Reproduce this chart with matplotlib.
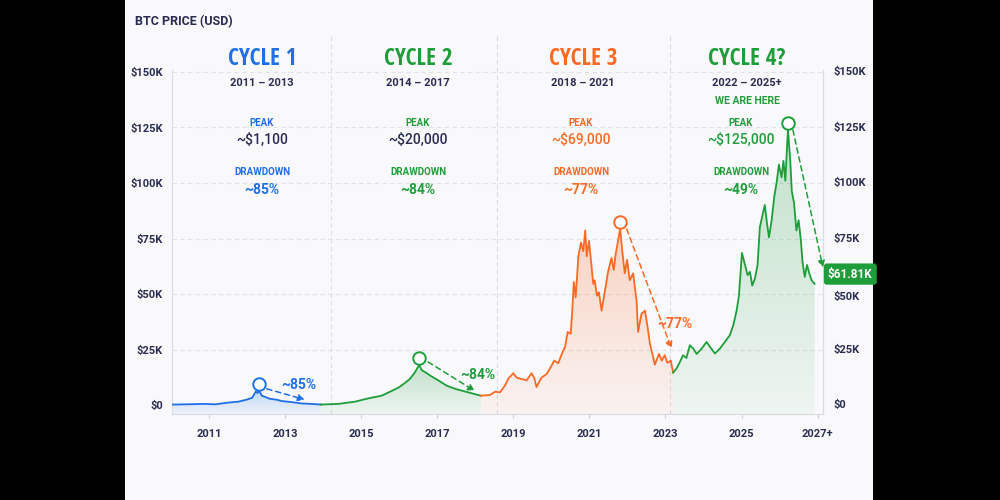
import numpy as np
import matplotlib
matplotlib.use("Agg")
import matplotlib.pyplot as plt
import matplotlib.transforms as mtransforms
from matplotlib.patches import Rectangle, Polygon
from matplotlib.colors import to_rgb
from matplotlib import font_manager
from matplotlib.font_manager import FontProperties
from matplotlib.textpath import TextPath

# ---------------- data (prices in $K) ----------------
c1_years = [2010.04, 2010.37, 2010.90, 2011.16, 2011.51, 2011.77, 2011.99, 2012.14, 2012.23, 2012.28,
            2012.32, 2012.39, 2012.47, 2012.60, 2012.78, 2012.91, 2013.18, 2013.44, 2013.70, 2013.94]
c1_prices = [0.2, 0.3, 0.5, 0.3, 1.1, 1.5, 2.4, 3.3, 6.1, 5.4,
             6.5, 4.2, 3.7, 2.8, 2.4, 1.8, 1.3, 0.7, 0.5, 0.2]

c2_years = [2013.94, 2014.40, 2014.84, 2015.19, 2015.54, 2015.80, 2015.98, 2016.15, 2016.28, 2016.41,
            2016.49, 2016.53, 2016.59, 2016.72, 2016.85, 2017.03, 2017.25, 2017.47, 2017.73, 2017.99, 2018.15]
c2_prices = [0.2, 0.5, 1.5, 3.0, 4.2, 6.3, 7.8, 9.9, 11.7, 14.6,
             17.0, 18.0, 15.8, 14.4, 12.9, 11.1, 8.7, 7.3, 6.1, 4.9, 4.2]

c3_years = [2018.15, 2018.39, 2018.52, 2018.65, 2018.78, 2018.87, 2019.00, 2019.09, 2019.22, 2019.35,
            2019.48, 2019.55, 2019.61, 2019.74, 2019.88, 2019.96, 2020.08, 2020.18, 2020.29, 2020.36,
            2020.43, 2020.51, 2020.56, 2020.59, 2020.64, 2020.71, 2020.78, 2020.84, 2020.89, 2020.93,
            2020.99, 2021.04, 2021.10, 2021.14, 2021.20, 2021.25, 2021.32, 2021.41, 2021.49, 2021.58,
            2021.64, 2021.69, 2021.76, 2021.81, 2021.86, 2021.93, 2021.99, 2022.06, 2022.15, 2022.24,
            2022.28, 2022.37, 2022.46, 2022.53, 2022.59, 2022.68, 2022.72, 2022.83, 2022.90, 2022.98,
            2023.05, 2023.14, 2023.20]
c3_prices = [4.2, 4.5, 6.0, 5.7, 8.7, 11.9, 14.3, 12.3, 11.7, 11.1,
             14.3, 12.3, 8.1, 12.3, 14.0, 16.4, 20.0, 18.8, 23.6, 26.2,
             32.9, 32.1, 45.5, 55.4, 48.5, 67.0, 73.2, 69.3, 78.6, 67.0,
             73.9, 65.4, 54.6, 56.2, 49.2, 50.8, 42.5, 51.5, 60.0, 66.2,
             60.8, 67.9, 74.7, 79.3, 70.0, 59.3, 65.4, 56.2, 59.3, 47.0,
             32.9, 41.1, 42.5, 35.1, 27.7, 21.2, 18.2, 23.0, 20.0, 22.4,
             19.0, 20.0, 14.6]

c4_years = [2023.20, 2023.29, 2023.38, 2023.46, 2023.55, 2023.64, 2023.73, 2023.82, 2023.95, 2024.08,
            2024.17, 2024.30, 2024.43, 2024.56, 2024.69, 2024.78, 2024.87, 2024.93, 2025.01, 2025.09,
            2025.16, 2025.22, 2025.28, 2025.35, 2025.42, 2025.48, 2025.55, 2025.61, 2025.67, 2025.72,
            2025.79, 2025.86, 2025.92, 2025.98, 2026.05, 2026.10, 2026.15, 2026.20, 2026.22, 2026.28,
            2026.32, 2026.38, 2026.44, 2026.50, 2026.56, 2026.60, 2026.66, 2026.72, 2026.78, 2026.84,
            2026.92]
c4_prices = [14.6, 16.4, 19.4, 22.4, 21.2, 26.9, 25.4, 23.0, 25.4, 28.4,
             26.2, 23.2, 25.4, 28.4, 31.4, 35.8, 42.5, 49.2, 68.5, 63.1,
             58.5, 60.0, 53.8, 56.9, 63.1, 80.1, 85.5, 90.1, 81.6, 75.5,
             83.2, 94.0, 100.1, 108.3, 102.6, 110.0, 101.0, 118.3, 123.9, 110.0,
             96.3, 90.9, 78.6, 83.2, 73.9, 64.7, 57.7, 63.1, 59.3, 56.2,
             54.6]

cycle_names = ["CYCLE 1", "CYCLE 2", "CYCLE 3", "CYCLE 4?"]
cycle_ranges = ["2011 – 2013", "2014 – 2017", "2018 – 2021", "2022 – 2025+"]
peak_labels = ["~$1,100", "~$20,000", "~$69,000", "~$125,000"]
drawdown_labels = ["~85%", "~84%", "~77%", "~49%"]

arrow_start_years = [2012.52, 2016.76, 2021.98, 2026.35]
arrow_start_vals = [7.3, 19.4, 79.3, 123.9]
arrow_end_years = [2013.52, 2017.99, 2023.16, 2027.14]
arrow_end_vals = [2.4, 6.3, 25.4, 61.9]

pct_years = [2013.35, 2018.08, 2023.25]
pct_vals = [8.9, 13.5, 36.6]
pct_labels = ["~85%", "~84%", "~77%"]

divider_years = [2014.21, 2018.57, 2023.11]

y_ticks = [0, 25, 50, 75, 100, 125, 150]
y_tick_labels = ["$0", "$25K", "$50K", "$75K", "$100K", "$125K", "$150K"]
x_ticks = [2011, 2013, 2015, 2017, 2019, 2021, 2023, 2025, 2027]
x_tick_labels = ["2011", "2013", "2015", "2017", "2019", "2021", "2023", "2025", "2027+"]

current_label = "$61.81K"

# ---------------- style ----------------
BLUE = "#1f6fe9"
GREEN = "#1f9d3a"
ORANGE = "#fa6a25"
NAVY = "#2a2c52"
GRID = "#e2e2ea"
PANEL = "#f9f9fb"
seg_colors = [BLUE, GREEN, ORANGE, GREEN]
value_colors = [NAVY, NAVY, ORANGE, GREEN]

avail = {f.name for f in font_manager.fontManager.ttflist}
BASE = "Roboto" if "Roboto" in avail else "DejaVu Sans"
plt.rcParams["font.family"] = [BASE, "DejaVu Sans"]

SANS_PREFIXES = ("DejaVu Sans", "Liberation Sans", "Noto Sans", "Roboto", "Open Sans", "Lato", "Inter")


def _is_bold(f):
    w = f.weight
    if isinstance(w, str):
        return w in ("bold", "semibold", "demibold", "heavy", "extra bold")
    return 600 <= w <= 800


# pick the narrowest bold upright plain-sans face for the big cycle headings
best = None
for f in font_manager.fontManager.ttflist:
    if not f.name.startswith(SANS_PREFIXES):
        continue
    if any(b in f.name for b in ("Mono", "CJK", "Serif", "Display", "Symbols", "Math")):
        continue
    if not _is_bold(f) or "oblique" in f.style or "italic" in f.style:
        continue
    if not f.fname.lower().endswith((".ttf", ".otf")):
        continue
    try:
        fp = FontProperties(fname=f.fname, size=10)
        ext = TextPath((0, 0), "CYCLE 1", prop=fp).get_extents()
        capx = TextPath((0, 0), "E", prop=fp).get_extents()
        ratio = ext.width / max(capx.height, 1e-6)
    except Exception:
        continue
    if best is None or ratio < best[0]:
        best = (ratio, f.fname, capx.height / 10.0)

if best is not None:
    cap_ratio = best[2]
    size = 12.0 / cap_ratio          # cap height ~ 16.7 px
    width_px = best[0] * 16.7
    if width_px > 74:
        size *= 74 / width_px
    HEAD_FP = FontProperties(fname=best[1], size=size)
else:
    HEAD_FP = FontProperties(family=[BASE, "DejaVu Sans"], weight="bold", size=14)

fig = plt.figure(figsize=(10, 5), dpi=100)
fig.patch.set_facecolor("black")
fig.add_artist(Rectangle((0.125, 0), 0.748, 1, transform=fig.transFigure,
                         facecolor=PANEL, edgecolor="none", zorder=-10))

ax = fig.add_axes([0.172, 0.172, 0.651, 0.688])
ax.set_facecolor("none")
YMIN, YMAX = -4.05, 150.9
ax.set_xlim(2010.03, 2027.14)
ax.set_ylim(YMIN, YMAX)

# grid
for v in y_ticks[1:]:
    ax.axhline(v, color=GRID, lw=0.8, ls=(0, (4, 3)), zorder=0)
for d in divider_years:
    ax.axvline(d, ymin=0, ymax=1.10, color="#dcdce4", lw=0.8, ls=(0, (4, 3)),
               clip_on=False, zorder=0)

for s in ["left", "bottom", "right"]:
    ax.spines[s].set_color("#dcdce4")
    ax.spines[s].set_linewidth(0.9)
ax.spines["top"].set_visible(False)


def gradient_fill(xs, ys, color, a_top=0.26, a_bot=0.05):
    xs = np.asarray(xs, float)
    ys = np.asarray(ys, float)
    rgb = to_rgb(color)
    n = 256
    img = np.zeros((n, 1, 4))
    img[:, 0, 0], img[:, 0, 1], img[:, 0, 2] = rgb
    img[:, 0, 3] = np.linspace(a_bot, a_top, n)
    im = ax.imshow(img, aspect="auto", origin="lower",
                   extent=[xs.min(), xs.max(), YMIN, ys.max()], zorder=1,
                   interpolation="bilinear")
    verts = [(xs[0], YMIN)] + list(zip(xs, ys)) + [(xs[-1], YMIN)]
    poly = Polygon(verts, closed=True, facecolor="none", edgecolor="none")
    ax.add_patch(poly)
    im.set_clip_path(poly)


segments = [(c1_years, c1_prices), (c2_years, c2_prices), (c3_years, c3_prices), (c4_years, c4_prices)]
peak_off = mtransforms.ScaledTranslation(0, 5 / 72, fig.dpi_scale_trans)
for (xs, ys), col in zip(segments, seg_colors):
    gradient_fill(xs, ys, col)
    ax.plot(xs, ys, color=col, lw=1.3, zorder=3, solid_joinstyle="round")
    i = int(np.argmax(ys))
    ax.plot(xs[i], ys[i], "o", ms=9, mfc="white", mec=col, mew=1.4, zorder=5,
            transform=ax.transData + peak_off)

# drawdown arrows
for xs0, ys0, xs1, ys1, col in zip(arrow_start_years, arrow_start_vals,
                                   arrow_end_years, arrow_end_vals, seg_colors):
    ax.annotate("", xy=(xs1, ys1), xytext=(xs0, ys0), annotation_clip=False,
                arrowprops=dict(arrowstyle="-|>", color=col, lw=1.1, ls=(0, (3.5, 2.5)),
                                shrinkA=0, shrinkB=0, mutation_scale=10), zorder=4)

for px, pv, pl, col in zip(pct_years, pct_vals, pct_labels, seg_colors):
    ax.text(px, pv, pl, color=col, fontsize=10, fontweight="bold", ha="center", va="center", zorder=6)

# ticks
ax.set_yticks(y_ticks)
ax.set_yticklabels(y_tick_labels)
ax.tick_params(axis="y", length=0, pad=6.5, labelsize=8, labelcolor=NAVY)
for t in ax.get_yticklabels():
    t.set_fontweight("bold")
ax.set_xticks(x_ticks)
ax.set_xticklabels(x_tick_labels)
ax.tick_params(axis="x", length=3, width=0.8, color="#cfcfd8", pad=8, labelsize=8, labelcolor=NAVY)
for t in ax.get_xticklabels():
    t.set_fontweight("bold")

# right-side labels
rt = mtransforms.blended_transform_factory(ax.transAxes, ax.transData)
for v, lab in zip(y_ticks, y_tick_labels):
    off = -1.5 if v == 50 else 0
    ax.text(1.0 + 10 / 651, v + off, lab, transform=rt, ha="left", va="center",
            fontsize=8, fontweight="bold", color=NAVY, clip_on=False)

# current price badge
badge_t = rt + mtransforms.ScaledTranslation(0, 7 / 72, fig.dpi_scale_trans)
ax.text(1.0 + 5 / 651, c4_prices[-1], current_label, transform=badge_t, ha="left", va="center",
        fontsize=8.5, fontweight="bold", color="white", clip_on=False, zorder=7,
        bbox=dict(boxstyle="round,pad=0.35,rounding_size=0.25", fc=GREEN, ec="none"))

# headers (figure pixel positions)
def ft(x, y, s, **kw):
    fig.text(x / 1000, 1 - y / 500, s, ha="center", va="center", **kw)

fig.text(0.135, 1 - 22 / 500, "BTC PRICE (USD)", ha="left", va="center",
         fontsize=9, fontweight="bold", color=NAVY)

head_x = [262, 418, 583, 747]
sub_x = [262, 418, 581, 741]
for k in range(4):
    ft(head_x[k], 59, cycle_names[k], fontproperties=HEAD_FP, color=seg_colors[k])
    ft(head_x[k], 83, cycle_ranges[k], fontsize=8, fontweight="bold", color=NAVY)
    ft(sub_x[k], 123, "PEAK", fontsize=7, fontweight="bold", color=seg_colors[k])
    ft(sub_x[k], 140, peak_labels[k], fontsize=10, fontweight="medium", color=value_colors[k])
    ft(sub_x[k], 172, "DRAWDOWN", fontsize=7, fontweight="bold", color=seg_colors[k])
    ft(sub_x[k], 190, drawdown_labels[k], fontsize=10, fontweight="bold", color=seg_colors[k])
ft(head_x[3], 101, "WE ARE HERE", fontsize=7.5, fontweight="bold", color=GREEN)

fig.savefig("out.png", dpi=100, facecolor=fig.get_facecolor())
